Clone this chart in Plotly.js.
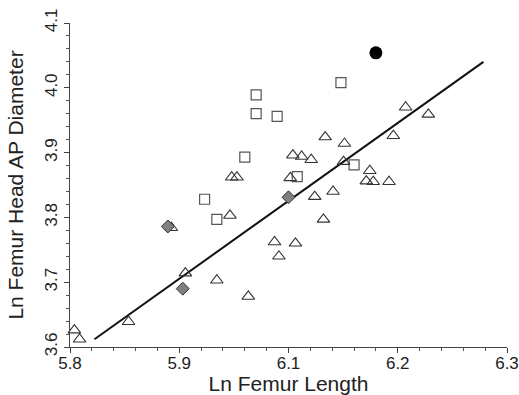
<!DOCTYPE html>
<html>
<head>
<meta charset="utf-8">
<script src="https://cdn.plot.ly/plotly-3.0.1.min.js"></script>
<style>html,body{margin:0;padding:0;background:#fff;}#chart{width:519px;height:395px;}</style>
</head>
<body>
<div id="chart"></div>
<script>
// Triangles
const triX = [5.805, 5.811, 5.867, 5.932, 5.968, 6.004, 5.983, 5.916, 5.985, 5.991, 6.034, 6.039, 6.058, 6.090, 6.080, 6.101, 6.052, 6.055, 6.065, 6.076, 6.092, 6.114, 6.113, 6.143, 6.139, 6.147, 6.165, 6.170, 6.184, 6.210];
const triY = [3.626, 3.612, 3.639, 3.714, 3.703, 3.678, 3.803, 3.784, 3.862, 3.862, 3.762, 3.740, 3.760, 3.797, 3.832, 3.840, 3.861, 3.896, 3.894, 3.889, 3.924, 3.914, 3.886, 3.872, 3.856, 3.855, 3.855, 3.926, 3.970, 3.959];
// Squares
const sqX = [6.013, 6.013, 6.037, 6.000, 5.954, 5.968, 6.110, 6.060, 6.125];
const sqY = [3.989, 3.960, 3.956, 3.893, 3.828, 3.797, 4.008, 3.863, 3.881];
// Grey diamonds
const diaX = [5.929, 5.912, 6.050];
const diaY = [3.690, 3.786, 3.831];
// Black circle
const dotX = [6.150];
const dotY = [4.054];
// Regression line
const lineX = [5.828, 6.273];
const lineY = [3.612, 4.040];
// Axis tick labels
const xTickVals = [5.8, 5.925, 6.05, 6.175, 6.3];
const xTickText = ["5.8", "5.9", "6.1", "6.2", "6.3"];
const yTickVals = [3.6, 3.7, 3.8, 3.9, 4.0, 4.1];
const yTickText = ["3.6", "3.7", "3.8", "3.9", "4.0", "4.1"];

const mline = {color: '#333', width: 1};
const traces = [
  {x: lineX, y: lineY, mode: 'lines', line: {color: '#111', width: 2}, hoverinfo: 'skip', cliponaxis: false},
  {x: sqX, y: sqY, mode: 'markers', cliponaxis: false,
   marker: {symbol: 'square-open', size: 10, color: '#555', line: {width: 1.2}}},
  {x: triX, y: triY, mode: 'markers', cliponaxis: false,
   marker: {symbol: 'triangle-up-open', size: 11, color: '#333', line: {width: 1.1}}},
  {x: diaX, y: diaY, mode: 'markers', cliponaxis: false,
   marker: {symbol: 'diamond', size: 10, color: '#808080', line: mline}},
  {x: dotX, y: dotY, mode: 'markers', cliponaxis: false,
   marker: {symbol: 'circle', size: 13, color: '#000', line: {color: '#000', width: 0}}}
];

const font = {family: 'Liberation Sans, Arial, sans-serif', color: '#222'};
const layout = {
  width: 519, height: 395,
  margin: {l: 70, r: 12, t: 23, b: 48},
  paper_bgcolor: '#fff', plot_bgcolor: '#fff',
  showlegend: false,
  font: font,
  xaxis: {
    range: [5.8, 6.3], tickmode: 'array', tickvals: xTickVals, ticktext: xTickText,
    showgrid: false, zeroline: false, showline: true, linecolor: '#444', linewidth: 1,
    ticks: 'outside', ticklen: 5, tickcolor: '#444', ticklabelstandoff: -4,
    minor: {tickmode: 'linear', tick0: 5.8, dtick: 0.025, ticks: 'outside', ticklen: 3, tickcolor: '#555', showgrid: false},
    tickfont: {size: 17, family: font.family, color: '#222'},
    title: {text: 'Ln Femur Length', font: {size: 21, family: font.family, color: '#222'}, standoff: 2},
    automargin: false
  },
  yaxis: {
    range: [3.6, 4.1], tickmode: 'array', tickvals: yTickVals, ticktext: yTickText,
    showgrid: false, zeroline: false, showline: true, linecolor: '#444', linewidth: 1,
    ticks: 'outside', ticklen: 5, tickcolor: '#444', tickangle: -90,
    minor: {tickmode: 'linear', tick0: 3.6, dtick: 0.02, ticks: 'outside', ticklen: 3, tickcolor: '#555', showgrid: false},
    tickfont: {size: 17, family: font.family, color: '#222'},
    title: {text: 'Ln Femur Head AP Diameter', font: {size: 21, family: font.family, color: '#222'}, standoff: 12},
    automargin: false
  }
};
Plotly.newPlot('chart', traces, layout, {staticPlot: true, displayModeBar: false});
</script>
</body>
</html>
